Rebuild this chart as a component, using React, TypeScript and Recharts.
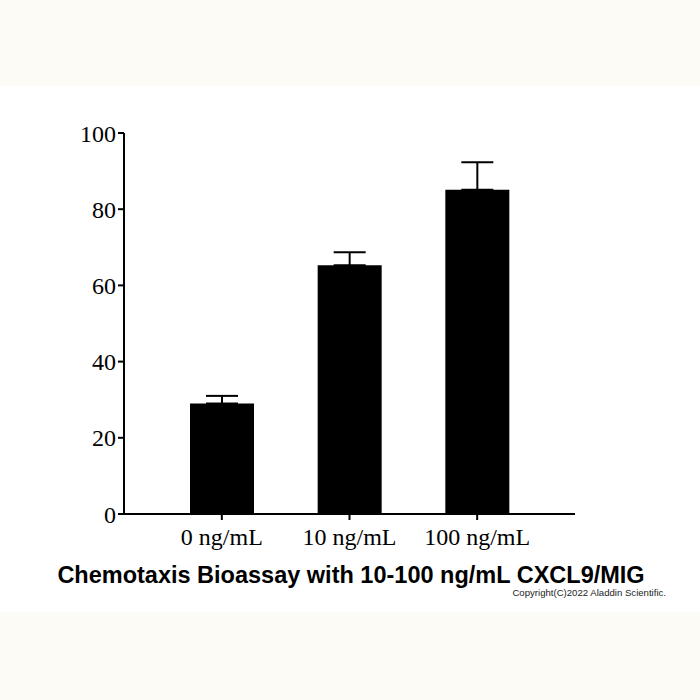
import { Bar, BarChart, ErrorBar, XAxis, YAxis } from "recharts";

// chemotaxis response per CXCL9/MIG dose
const DOSES = ["0 ng/mL", "10 ng/mL", "100 ng/mL"];
const MEANS = [29, 65.3, 85.1];
const SEM_UP = [2, 3.4, 7.2];
const Y_TICKS = [0, 20, 40, 60, 80, 100];

const TITLE = "Chemotaxis Bioassay with 10-100 ng/mL CXCL9/MIG";
const COPYRIGHT = "Copyright(C)2022 Aladdin Scientific.";

const SERIF = '"Liberation Serif", "Times New Roman", serif';
const SANS = '"Liberation Sans", Arial, sans-serif';

const data = DOSES.map((dose, i) => ({
  dose,
  mean: MEANS[i],
  // only the upper whisker is drawn, lower one sits inside the bar
  err: [0, SEM_UP[i]],
}));

const axisStroke = { stroke: "#000", strokeWidth: 2 };

export default function App() {
  return (
    <div
      style={{
        position: "fixed",
        top: 0,
        left: 0,
        width: 700,
        height: 700,
        background: "#fff",
        overflow: "hidden",
      }}
    >
      {/* beige strips top and bottom */}
      <div style={{ position: "absolute", left: 0, top: 0, width: 700, height: 86, background: "#FCFBF6" }} />
      <div style={{ position: "absolute", left: 0, top: 612, width: 700, height: 88, background: "#FCFBF6" }} />

      <div style={{ position: "absolute", left: 0, top: 0 }}>
        <BarChart
          width={700}
          height={700}
          data={data}
          margin={{ top: 133, right: 125, bottom: 146, left: 64 }}
          barSize={64}
        >
          <XAxis
            dataKey="dose"
            height={40}
            padding={{ left: 34, right: 34 }}
            axisLine={axisStroke}
            tickLine={axisStroke}
            tickSize={6}
            tickMargin={8}
            tick={{ fontSize: 24, fill: "#000", fontFamily: SERIF }}
            interval={0}
          />
          <YAxis
            width={60}
            domain={[0, 100]}
            ticks={Y_TICKS}
            axisLine={axisStroke}
            tickLine={axisStroke}
            tickSize={6}
            tickMargin={2}
            tick={{ fontSize: 24, fill: "#000", fontFamily: SERIF }}
            allowDataOverflow
          />
          <Bar dataKey="mean" fill="#000" isAnimationActive={false}>
            <ErrorBar
              dataKey="err"
              width={16}
              stroke="#000"
              strokeWidth={2}
              direction="y"
              isAnimationActive={false}
            />
          </Bar>
        </BarChart>
      </div>

      <div
        style={{
          position: "absolute",
          left: 0,
          width: 702,
          top: 562,
          textAlign: "center",
          fontFamily: SANS,
          fontWeight: "bold",
          fontSize: 23.5,
          lineHeight: "26px",
          color: "#000",
          whiteSpace: "nowrap",
        }}
      >
        {TITLE}
      </div>
      <div
        style={{
          position: "absolute",
          right: 34,
          top: 587,
          fontFamily: SANS,
          fontSize: 9.6,
          lineHeight: "11px",
          color: "#222",
          whiteSpace: "nowrap",
        }}
      >
        {COPYRIGHT}
      </div>
    </div>
  );
}
